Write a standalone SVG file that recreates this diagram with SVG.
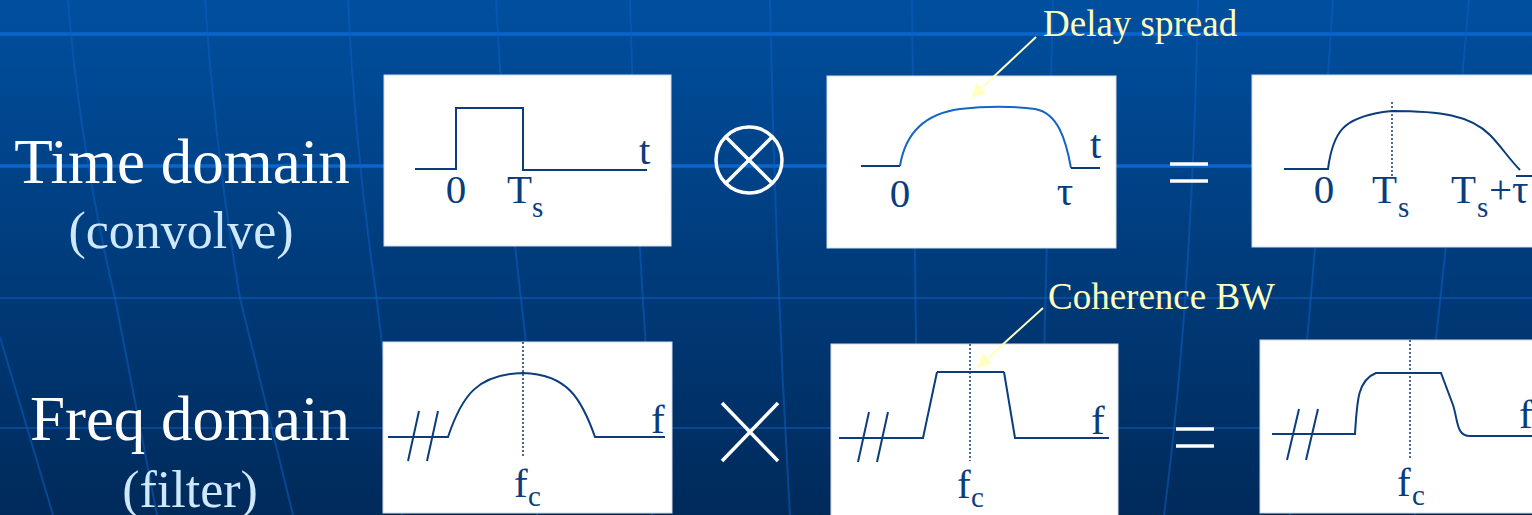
<svg xmlns="http://www.w3.org/2000/svg" width="1532" height="515" viewBox="0 0 1532 515">
<defs>
<linearGradient id="bg" x1="0" y1="0" x2="0" y2="1">
<stop offset="0" stop-color="#004f9f"/>
<stop offset="0.5" stop-color="#003c7c"/>
<stop offset="1" stop-color="#002a5a"/>
</linearGradient>
<marker id="ah" viewBox="0 0 10 10" refX="9" refY="5" markerWidth="16" markerHeight="14" markerUnits="userSpaceOnUse" orient="auto">
<path d="M0,0 L10,5 L0,10 Z" fill="#ffffc0"/>
</marker>
<style>
.hl{stroke:#0a66cc;fill:none}
.vl{stroke:#0b5ec2;stroke-width:2;fill:none;opacity:0.55}
.box{fill:#ffffff;stroke:#d6dce8;stroke-width:1}
.ink{stroke:#0b3d7c;stroke-width:2;fill:none}
.ink2{stroke:#1466c4;stroke-width:2;fill:none}
.dot{stroke:#0b3d7c;stroke-width:1.5;stroke-dasharray:2 2;fill:none}
.lbl{font-family:"Liberation Serif","Times New Roman",serif;fill:#0b3d7c;font-size:41px}
.sub{font-family:"Liberation Serif","Times New Roman",serif;fill:#0b3d7c;font-size:29px}
.big{font-family:"Liberation Serif","Times New Roman",serif;fill:#ffffff;font-size:63px;text-anchor:middle}
.mid{font-family:"Liberation Serif","Times New Roman",serif;fill:#cde8ff;font-size:52px;text-anchor:middle}
.ann{font-family:"Liberation Serif","Times New Roman",serif;fill:#ffffc0;font-size:37px}
.op{stroke:#ffffff;stroke-width:3.5;fill:none}
.arr{stroke:#ffffc0;stroke-width:2;fill:none}
</style>
</defs>
<rect x="0" y="0" width="1532" height="515" fill="url(#bg)"/>
<g id="background-grid">
<line class="hl" x1="0" y1="34" x2="1532" y2="34" stroke-width="3.5"/>
<line class="hl" x1="0" y1="166" x2="1532" y2="166" stroke-width="3.5"/>
<line class="hl" x1="0" y1="298" x2="1532" y2="298" stroke-width="2" opacity="0.45"/>
<line class="hl" x1="0" y1="428" x2="1532" y2="428" stroke-width="2" opacity="0.45"/>
<path class="vl" d="M0,337 Q25,420 53,515"/>
<path class="vl" d="M68,0 Q80,150 115,298 Q135,400 157,515"/>
<path class="vl" d="M205,0 Q215,150 240,298 Q265,400 293,515"/>
<path class="vl" d="M348,0 Q355,150 376,293 Q390,410 402,515"/>
<path class="vl" d="M496,0 Q505,170 525,333 Q532,420 537,515"/>
<path class="vl" d="M630,0 Q635,180 645,333 Q649,420 652,515"/>
<path class="vl" d="M770,0 Q775,260 790,515"/>
<path class="vl" d="M912,0 Q916,260 918,515"/>
<path class="vl" d="M1053,0 Q1046,260 1040,515"/>
<path class="vl" d="M1198,0 Q1192,300 1164,515"/>
<path class="vl" d="M1333,0 Q1315,280 1290,515"/>
<path class="vl" d="M1469,0 Q1445,280 1415,515"/>
</g>
<g id="label-time">
<text class="big" x="182" y="183">Time domain</text>
<text class="mid" x="181" y="248">(convolve)</text>
</g>
<g id="label-freq">
<text class="big" x="190" y="440">Freq domain</text>
<text class="mid" x="190" y="507">(filter)</text>
</g>
<g id="box-pulse">
<rect class="box" x="384" y="75" width="287" height="171"/>
<path class="ink" d="M415,169 L456,169 L456,108 L523,108 L523,170 L647,170"/>
<text class="lbl" x="456" y="203" text-anchor="middle">0</text>
<text class="lbl" x="507" y="203">T</text>
<text class="sub" x="532" y="217">s</text>
<text class="lbl" x="639" y="164">t</text>
</g>
<g id="op-convolve">
<circle class="op" cx="749" cy="160" r="33"/>
<line class="op" x1="725.7" y1="136.7" x2="772.3" y2="183.3"/>
<line class="op" x1="772.3" y1="136.7" x2="725.7" y2="183.3"/>
</g>
<g id="box-channel-time">
<rect class="box" x="827" y="76" width="289" height="172"/>
<path class="ink" d="M861,166 L900,166"/>
<path class="ink2" d="M900,166 C906,128 930,113 960,109 C985,106 1015,106 1035,109 C1058,113 1066,140 1071,168"/>
<path class="ink" d="M1071,168 L1100,168"/>
<text class="lbl" x="900" y="207" text-anchor="middle">0</text>
<text class="lbl" x="1065" y="205" text-anchor="middle">τ</text>
<text class="lbl" x="1090" y="158">t</text>
</g>
<g id="eq-time">
<line class="op" x1="1170" y1="164" x2="1208" y2="164"/>
<line class="op" x1="1170" y1="181" x2="1208" y2="181"/>
</g>
<g id="box-output-time">
<rect class="box" x="1252" y="75" width="290" height="172"/>
<path class="ink" d="M1284,169 L1328,169 C1333,130 1345,118 1383,112 L1392,111 C1440,111 1470,115 1490,135 C1500,145 1510,160 1520,170"/>
<path class="ink" d="M1516,176 L1532,176"/>
<line class="dot" x1="1392" y1="102" x2="1392" y2="176"/>
<text class="lbl" x="1324" y="203" text-anchor="middle">0</text>
<text class="lbl" x="1372" y="203">T</text>
<text class="sub" x="1398" y="217">s</text>
<text class="lbl" x="1451" y="203">T</text>
<text class="sub" x="1477" y="217">s</text>
<text class="lbl" x="1489" y="203">+τ</text>
</g>
<g id="box-filter">
<rect class="box" x="383" y="342" width="289" height="171"/>
<path class="ink" d="M388,437 L448,437 C462,395 478,374 523,373 C568,374 582,400 595,437 L665,437"/>
<path class="ink" d="M408,461 L419,411 M427,461 L438,411"/>
<line class="dot" x1="523" y1="342" x2="523" y2="458"/>
<text class="lbl" x="651" y="433">f</text>
<text class="lbl" x="514" y="497">f</text>
<text class="sub" x="528" y="506">c</text>
</g>
<g id="op-multiply">
<line class="op" x1="722" y1="403" x2="778" y2="461"/>
<line class="op" x1="778" y1="403" x2="722" y2="461"/>
</g>
<g id="box-channel-freq">
<rect class="box" x="831" y="344" width="287" height="175"/>
<path class="ink" d="M839,438 L923,438 L937,372 M1004,372 L1015,438 L1109,438"/>
<path class="ink" d="M937,372 L1004,372" stroke-width="4"/>
<path class="ink" d="M858,462 L869,412 M877,462 L888,412"/>
<line class="dot" x1="970" y1="344" x2="970" y2="461"/>
<text class="lbl" x="1091" y="434">f</text>
<text class="lbl" x="957" y="498">f</text>
<text class="sub" x="971" y="507">c</text>
</g>
<g id="eq-freq">
<line class="op" x1="1176" y1="429" x2="1214" y2="429"/>
<line class="op" x1="1176" y1="446" x2="1214" y2="446"/>
</g>
<g id="box-output-freq">
<rect class="box" x="1260" y="340" width="290" height="173"/>
<path class="ink" d="M1272,434 L1355,434 C1357,400 1358,380 1376,373 L1441,373 L1453,405 C1458,420 1456,436 1470,436 L1532,436"/>
<path class="ink" d="M1287,460 L1299,409 M1306,460 L1318,409"/>
<line class="dot" x1="1410" y1="340" x2="1410" y2="458"/>
<text class="lbl" x="1519" y="428">f</text>
<text class="lbl" x="1397" y="496">f</text>
<text class="sub" x="1412" y="505">c</text>
</g>
<g id="annotation-delay">
<text class="ann" x="1043" y="36">Delay spread</text>
</g>
<g id="annotation-coherence">
<text class="ann" x="1048" y="309">Coherence BW</text>
</g>
<g id="connectors">
<line class="arr" x1="1036" y1="37" x2="972" y2="97" marker-end="url(#ah)"/>
<line class="arr" x1="1043" y1="308" x2="978" y2="367" marker-end="url(#ah)"/>
</g>
</svg>
